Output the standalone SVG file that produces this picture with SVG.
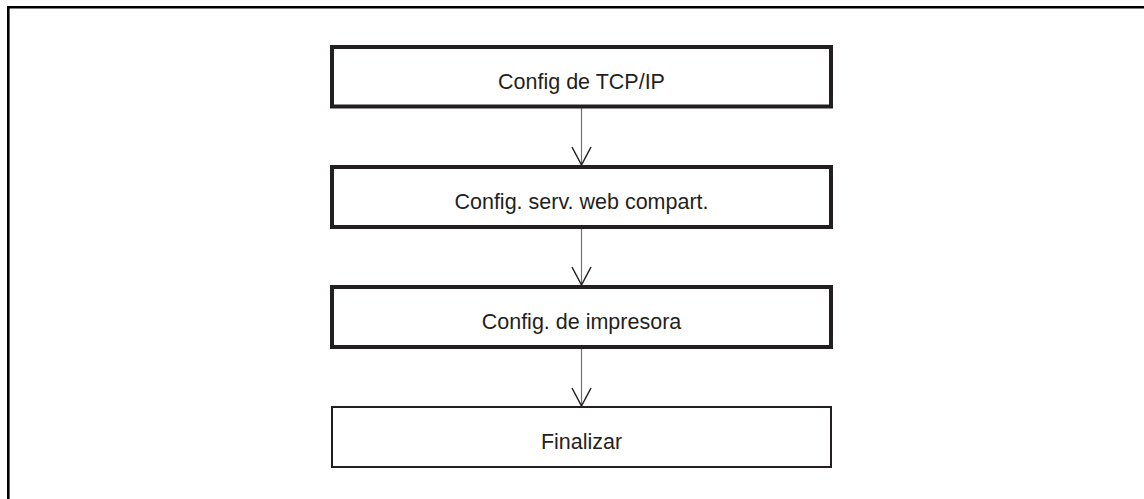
<svg xmlns="http://www.w3.org/2000/svg" width="1144" height="499" viewBox="0 0 1144 499">
<style>
.frame{fill:none;stroke:#000;stroke-width:2.6}
.box{fill:#fff;stroke:#231f20;stroke-width:4}
.box.end{stroke-width:2}
.lbl{font-family:"Liberation Sans",Arial,sans-serif;font-size:21.5px;fill:#231f20;text-anchor:middle}
.conn{stroke:#707070;stroke-width:1.2;fill:none}
.head{stroke:#231f20;stroke-width:1.5;fill:none}
</style>
<rect x="0" y="0" width="1144" height="499" fill="#fff"/>
<path class="frame" d="M8.3,499 V7.3 H1144"/>
<g id="connectors">
<line class="conn" x1="581.5" y1="108" x2="581.5" y2="165"/>
<polyline class="head" points="572,147 581.5,165 591,147"/>
<line class="conn" x1="581.5" y1="228" x2="581.5" y2="285"/>
<polyline class="head" points="572,267 581.5,285 591,267"/>
<line class="conn" x1="581.5" y1="348" x2="581.5" y2="406"/>
<polyline class="head" points="572,388 581.5,406 591,388"/>
</g>
<g id="node-tcpip">
<rect class="box" x="332" y="47" width="499" height="59.5"/>
<text class="lbl" x="581.5" y="89">Config de TCP/IP</text>
</g>
<g id="node-web">
<rect class="box" x="332" y="167" width="499" height="60"/>
<text class="lbl" x="581.5" y="209.3">Config. serv. web compart.</text>
</g>
<g id="node-printer">
<rect class="box" x="332" y="287" width="499" height="60"/>
<text class="lbl" x="581.5" y="329.3">Config. de impresora</text>
</g>
<g id="node-end">
<rect class="box end" x="332" y="407" width="499" height="60"/>
<text class="lbl" x="581.5" y="449.3">Finalizar</text>
</g>
</svg>
